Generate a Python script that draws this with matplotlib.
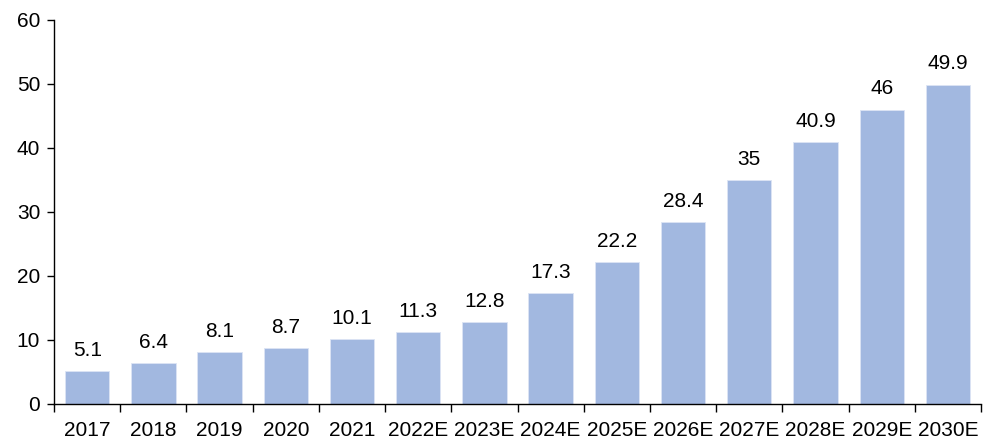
import matplotlib
matplotlib.use("Agg")
import matplotlib.pyplot as plt
import numpy as np

# Données
years = ["2017", "2018", "2019", "2020", "2021", "2022E", "2023E", "2024E",
         "2025E", "2026E", "2027E", "2028E", "2029E", "2030E"]
values = [5.1, 6.4, 8.1, 8.7, 10.1, 11.3, 12.8, 17.3, 22.2, 28.4, 35, 40.9, 46, 49.9]
value_labels = ["5.1", "6.4", "8.1", "8.7", "10.1", "11.3", "12.8", "17.3",
                "22.2", "28.4", "35", "40.9", "46", "49.9"]

plt.rcParams["font.family"] = ["Liberation Sans", "DejaVu Sans"]
fs = 15

fig = plt.figure(figsize=(9.83, 4.42), dpi=100)
ax = fig.add_axes([0.055, 0.086, 0.943, 0.869])

x = np.arange(len(years))
bars = ax.bar(x, values, width=0.67, color="#A2B8E0", edgecolor="#DCE4F4", linewidth=0.6)

for xi, v, lab in zip(x, values, value_labels):
    ax.annotate(lab, (xi, v), xytext=(0, 8), textcoords="offset points",
                ha="center", va="bottom", fontsize=fs)

ax.set_xlim(-0.5, len(years) - 0.5)
ax.set_ylim(0, 60)
ax.set_yticks(range(0, 61, 10))
ax.tick_params(axis="y", labelsize=fs, length=5, width=1, direction="out", pad=5)

# ticks entre les catégories
ax.set_xticks(np.arange(-0.5, len(years), 1.0))
ax.set_xticklabels([])
ax.set_xticks(x, minor=True)
ax.set_xticklabels(years, minor=True, fontsize=fs)
ax.tick_params(axis="x", which="major", length=6, width=1, direction="out")
ax.tick_params(axis="x", which="minor", length=0, pad=12)

for s in ["top", "right"]:
    ax.spines[s].set_visible(False)
ax.spines["left"].set_linewidth(1)
ax.spines["bottom"].set_linewidth(1)

fig.savefig("out.png", dpi=100)
